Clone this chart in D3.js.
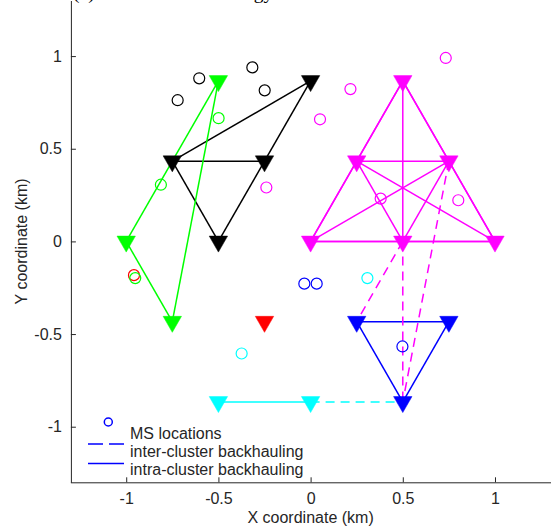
<!DOCTYPE html>
<html>
<head>
<meta charset="utf-8">
<script src="https://cdn.jsdelivr.net/npm/d3@7"></script>
<style>
  html, body { margin: 0; padding: 0; background: #fff; }
  svg { display: block; }
  text { font-family: "Liberation Sans", Arial, Helvetica, sans-serif; fill: #262626; }
</style>
</head>
<body>
<svg id="chart" width="551" height="527"></svg>
<script>
// ---------------- data ----------------
const xTicks = [-1, -0.5, 0, 0.5, 1];
const yTicks = [-1, -0.5, 0, 0.5, 1];
const xLabel = "X coordinate (km)";
const yLabel = "Y coordinate (km)";
const titleText = "(a) Results of the strategy";

// cluster colours
const clusterNames  = ["black", "green", "magenta", "blue", "cyan", "red"];
const clusterColors = ["#000000", "#00ff00", "#ff00ff", "#0000ff", "#00ffff", "#ff0000"];

// base stations (triangles) per cluster
const bsBlack   = [[-0.75, 0.433], [-0.25, 0.433], [-0.5, 0], [0, 0.866]];
const bsGreen   = [[-1, 0], [-0.75, -0.433], [-0.5, 0.866]];
const bsMagenta = [[0.5, 0.866], [0.25, 0.433], [0.75, 0.433], [0, 0], [0.5, 0], [1, 0]];
const bsBlue    = [[0.25, -0.433], [0.75, -0.433], [0.5, -0.866]];
const bsCyan    = [[-0.5, -0.866], [0, -0.866]];
const bsRed     = [[-0.25, -0.433]];

// mobile stations (circles) per cluster
const msBlack   = [[-0.721, 0.762], [-0.604, 0.880], [-0.316, 0.939], [-0.249, 0.815]];
const msGreen   = [[-0.499, 0.665], [-0.812, 0.306], [-0.951, -0.198]];
const msMagenta = [[0.051, 0.659], [-0.240, 0.291], [0.216, 0.822], [0.733, 0.990], [0.380, 0.231], [0.801, 0.222]];
const msBlue    = [[-0.034, -0.228], [0.033, -0.228], [0.498, -0.567]];
const msCyan    = [[-0.374, -0.605], [0.308, -0.198]];
const msRed     = [[-0.958, -0.182]];

// intra-cluster links (index pairs into the cluster's BS list)
const linksBlack   = [[0, 1], [0, 2], [1, 2], [0, 3], [1, 3]];
const linksGreen   = [[0, 1], [0, 2], [1, 2]];
const linksMagenta = [[0,1],[0,2],[0,3],[0,4],[0,5],[1,2],[1,3],[1,4],[1,5],[2,3],[2,4],[2,5],[3,4],[3,5],[4,5]];
const linksBlue    = [[0, 1], [0, 2], [1, 2]];
const linksCyan    = [[0, 1]];
const linksRed     = [];

// inter-cluster backhauling (dashed)
const interFrom  = [[0.5, 0], [0.5, 0], [0.75, 0.433], [0, -0.866]];
const interTo    = [[0.25, -0.433], [0.5, -0.866], [0.5, -0.866], [0.5, -0.866]];
const interColor = ["magenta", "magenta", "magenta", "cyan"];

const legendLabels = ["MS locations", "inter-cluster backhauling", "intra-cluster backhauling"];

// ---------------- drawing ----------------
const bsAll    = [bsBlack, bsGreen, bsMagenta, bsBlue, bsCyan, bsRed];
const msAll    = [msBlack, msGreen, msMagenta, msBlue, msCyan, msRed];
const linksAll = [linksBlack, linksGreen, linksMagenta, linksBlue, linksCyan, linksRed];
const colorOf  = name => clusterColors[clusterNames.indexOf(name)];

const svg = d3.select("#chart");
const x = d3.scaleLinear().domain([-1.3, 1.3]).range([70.9, 550.3]);
const y = d3.scaleLinear().domain([-1.3, 1.3]).range([482.3, 0.5]);

// title (mostly cropped above the view, like the reference)
svg.append("text")
  .attr("x", 73).attr("y", -1)
  .style("font-family", "'Liberation Serif', 'Times New Roman', serif")
  .style("font-size", "19.5px")
  .style("fill", "#000")
  .text(titleText);

// axes
const axisColor = "#262626";
const gx = svg.append("g").attr("transform", `translate(0,${y(-1.3)})`)
  .call(d3.axisBottom(x).tickValues(xTicks).tickFormat(d => String(d))
        .tickSizeInner(-5).tickSizeOuter(0).tickPadding(10));
const gy = svg.append("g").attr("transform", `translate(${x(-1.3)},0)`)
  .call(d3.axisLeft(y).tickValues(yTicks).tickFormat(d => String(d))
        .tickSizeInner(-5).tickSizeOuter(0).tickPadding(9));
[gx, gy].forEach(g => {
  g.selectAll("path.domain").attr("stroke", axisColor).attr("stroke-width", 1);
  g.selectAll(".tick line").attr("stroke", axisColor);
  g.selectAll(".tick text").style("font-size", "16px")
    .style("font-family", "'Liberation Sans', Arial, sans-serif").attr("fill", axisColor);
});
svg.select("g").select("path.domain").attr("d", `M${x(-1.3)},0.5H551`);

svg.append("text").attr("x", x(0)).attr("y", 523)
  .attr("text-anchor", "middle").style("font-size", "16px").text(xLabel);
svg.append("text").attr("transform", `translate(21,${y(0)}) rotate(-90)`)
  .attr("text-anchor", "middle").attr("dominant-baseline", "central")
  .style("font-size", "16px").text(yLabel);

const plot = svg.append("g");
const lw = 1.5;
const dash = "9,6";

// intra-cluster links
linksAll.forEach((links, ci) => {
  const pts = bsAll[ci];
  plot.selectAll(null).data(links).enter().append("line")
    .attr("x1", d => x(pts[d[0]][0])).attr("y1", d => y(pts[d[0]][1]))
    .attr("x2", d => x(pts[d[1]][0])).attr("y2", d => y(pts[d[1]][1]))
    .attr("stroke", clusterColors[ci]).attr("stroke-width", lw);
});

// inter-cluster links
plot.selectAll(null).data(interFrom.map((f, i) => ({f, t: interTo[i], c: colorOf(interColor[i])})))
  .enter().append("line")
  .attr("x1", d => x(d.f[0])).attr("y1", d => y(d.f[1]))
  .attr("x2", d => x(d.t[0])).attr("y2", d => y(d.t[1]))
  .attr("stroke", d => d.c).attr("stroke-width", lw).attr("stroke-dasharray", dash);

// MS circles (red first so green overlaps it)
const msOrder = [5, 0, 1, 2, 3, 4];
msOrder.forEach(ci => {
  plot.selectAll(null).data(msAll[ci]).enter().append("circle")
    .attr("cx", d => x(d[0])).attr("cy", d => y(d[1])).attr("r", 5.5)
    .attr("fill", "none").attr("stroke", clusterColors[ci]).attr("stroke-width", 1.2);
});

// BS triangles (downward), positioned by centroid
const triW = 9.2, triTop = 5.3, triBot = 10.7;
const triPath = d3.line()([[-triW, -triTop], [triW, -triTop], [0, triBot]]) + "Z";
bsAll.forEach((pts, ci) => {
  plot.selectAll(null).data(pts).enter().append("path")
    .attr("d", triPath)
    .attr("transform", d => `translate(${x(d[0])},${y(d[1])})`)
    .attr("fill", clusterColors[ci]).attr("stroke", clusterColors[ci]).attr("stroke-width", 0.5);
});

// legend
const leg = svg.append("g");
const legColor = "#0000ff";
leg.append("circle").attr("cx", 108.3).attr("cy", 422).attr("r", 4)
  .attr("fill", "none").attr("stroke", legColor).attr("stroke-width", 1.5);
leg.append("line").attr("x1", 88).attr("x2", 124).attr("y1", 444).attr("y2", 444)
  .attr("stroke", legColor).attr("stroke-width", lw).attr("stroke-dasharray", "15,6");
leg.append("line").attr("x1", 88).attr("x2", 124).attr("y1", 463.5).attr("y2", 463.5)
  .attr("stroke", legColor).attr("stroke-width", lw);
leg.selectAll(null).data(legendLabels).enter().append("text")
  .attr("x", 130).attr("y", (d, i) => 433 + i * 18)
  .attr("dominant-baseline", "central")
  .style("font-size", "16px").attr("fill", "#000").text(d => d);
</script>
</body>
</html>
